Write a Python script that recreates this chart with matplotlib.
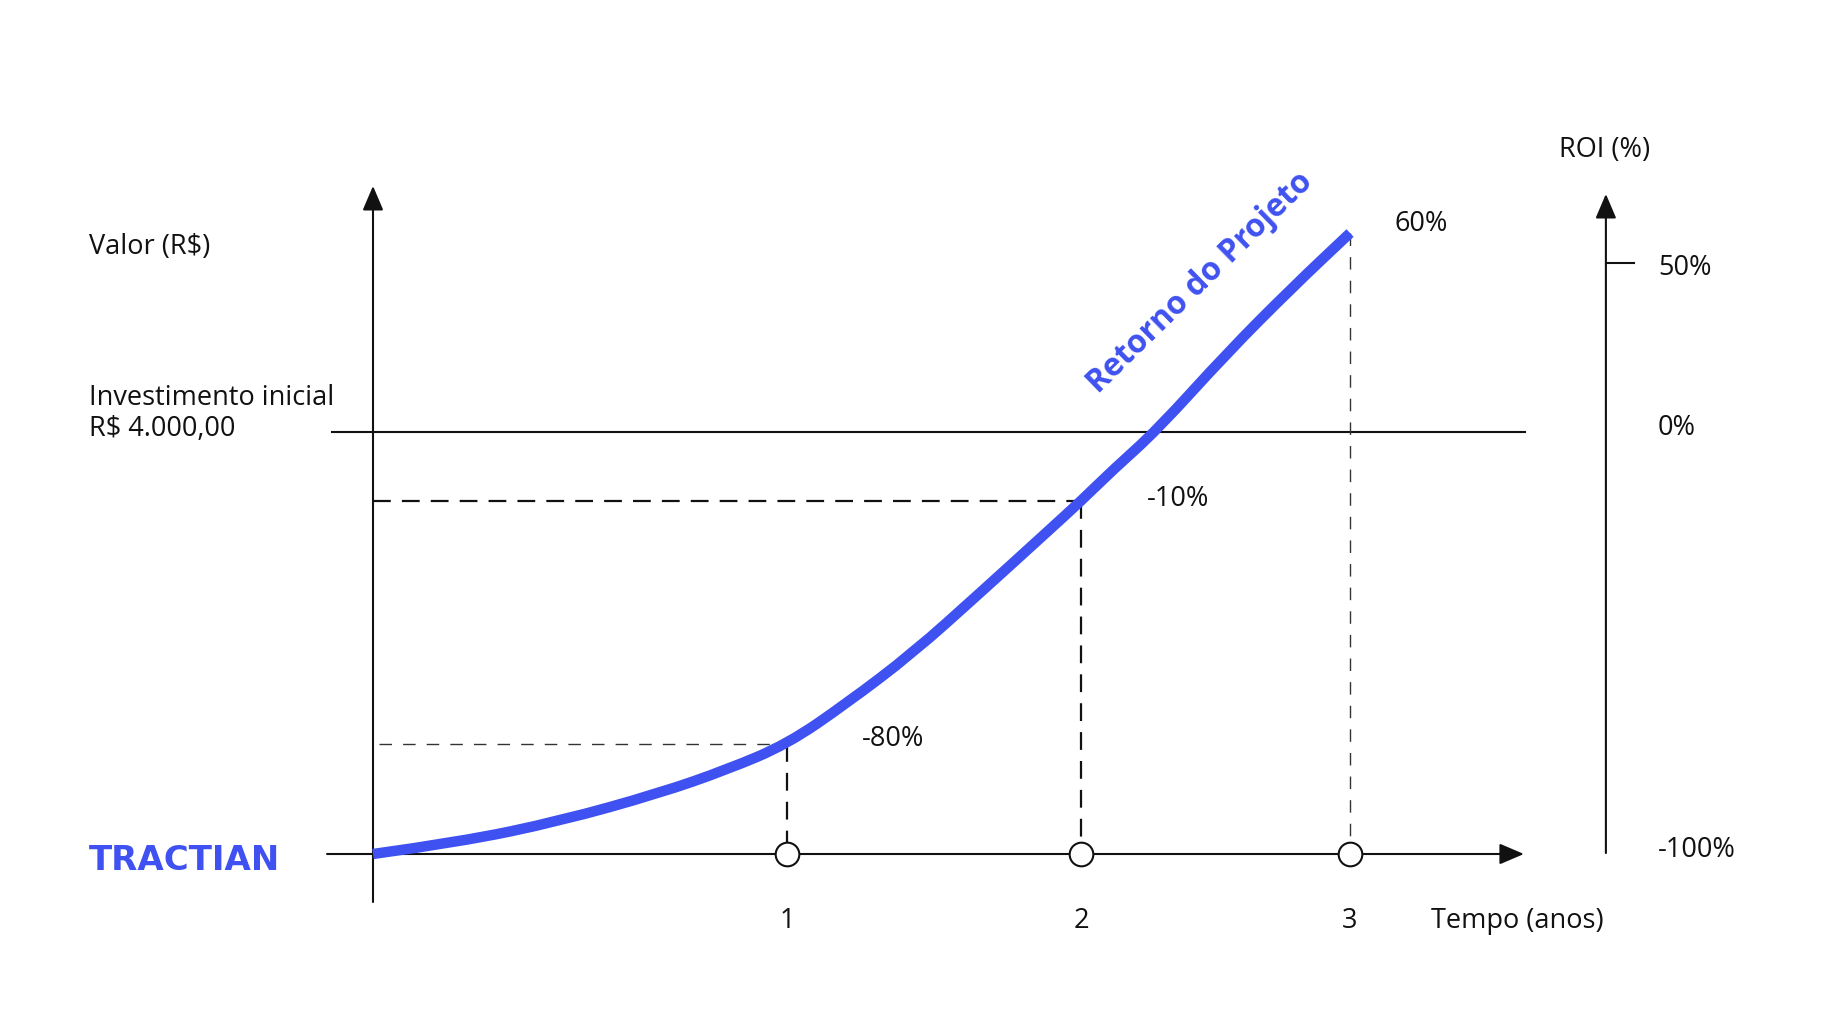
import numpy as np
import matplotlib
matplotlib.use('Agg')
import matplotlib.pyplot as plt
from matplotlib.path import Path
from matplotlib.patches import PathPatch

plt.rcParams['font.family'] = ['Open Sans', 'DejaVu Sans']

# data (schematic: horizontal unit = position of year 1, vertical = R$)
year_labels = ['1', '2', '3']
year_pos = [1.0, 1.71, 2.36]
year_value = [1040, 3346, 5886]
roi_labels = ['-80%', '-10%', '60%']
investment = 4000

curve_x = [0.0, 0.21, 0.452, 0.693, 0.855, 1.0, 1.145, 1.304, 1.466,
           1.628, 1.71, 1.787, 1.894, 2.063, 2.222, 2.36]
curve_y = [0, 114, 313, 578, 800, 1040, 1431, 1905, 2474,
           3052, 3346, 3640, 4019, 4749, 5375, 5886]

roi_tick_labels = ['50%', '0%', '-100%']
roi_tick_values = [5600, 4000, 0]

BLUE = '#3f51f0'
INK = '#111111'

# pixel <-> data helpers (figure is 1845 x 1009 px)
W, H = 1845, 1009
X0, PX_PER_X = 373, 414.0
Y0, R_PER_PX = 854, investment / 422.0

fig = plt.figure(figsize=(W / 100, H / 100), dpi=100)
ax = fig.add_axes([0, 0, 1, 1])
ax.set_xlim(-X0 / PX_PER_X, (W - X0) / PX_PER_X)
ax.set_ylim((Y0 - H) * R_PER_PX, Y0 * R_PER_PX)
ax.axis('off')

def arrow(x0, y0, x1, y1):
    ax.annotate('', xy=(x1, y1), xytext=(x0, y0),
                arrowprops=dict(arrowstyle='-|>,head_length=0.75,head_width=0.32',
                                mutation_scale=20, lw=1.5, color=INK,
                                shrinkA=0, shrinkB=0))

# axes
arrow(0, -455, 0, 6332)                 # left axis
arrow(-0.111, 0, 2.78, 0)               # time axis
arrow(2.978, 9, 2.978, 6256)            # ROI axis
ax.plot([-0.099, 2.783], [investment, investment], color=INK, lw=1.5)
ax.plot([2.978, 3.046], [roi_tick_values[0]] * 2, color=INK, lw=1.5)

# guide lines
thin = dict(color='#333333', lw=1.0, linestyle=(0, (9, 8)))
thick = dict(color=INK, lw=1.6, linestyle=(0, (8, 5)))
ax.plot([0.015, year_pos[0]], [year_value[0]] * 2, **thin)
ax.plot([year_pos[0]] * 2, [year_value[0], 0], **thick)
ax.plot([0, year_pos[1]], [year_value[1]] * 2, **thick)
ax.plot([year_pos[1]] * 2, [year_value[1], 0], **thick)
ax.plot([year_pos[2]] * 2, [year_value[2], 0], **thin)

# project return curve, smoothed with quadratic bezier segments
pts = np.column_stack([curve_x, curve_y])
verts = [pts[0]]
codes = [Path.MOVETO]
for i in range(1, len(pts) - 1):
    verts += [pts[i], (pts[i] + pts[i + 1]) / 2]
    codes += [Path.CURVE3, Path.CURVE3]
verts.append(pts[-1])
codes.append(Path.LINETO)
ax.add_patch(PathPatch(Path(verts, codes), facecolor='none', edgecolor=BLUE,
                       lw=7.5, capstyle='butt', joinstyle='round', zorder=4))

ax.scatter(year_pos, [0] * len(year_pos), s=290, facecolor='white',
           edgecolor=INK, linewidth=1.5, zorder=5)

fs = 19.5
dy = -25  # small nudge so text centres sit like the reference
for x, lab in zip(year_pos, year_labels):
    ax.text(x, -607 + dy, lab, fontsize=fs, color=INK, ha='center', va='center')

offsets = [(75, 5), (66, 2), (44, 9)]
for x, y, lab, off in zip(year_pos, year_value, roi_labels, offsets):
    ax.annotate(lab, (x, y), xytext=off, textcoords='offset pixels',
                fontsize=fs, color=INK, ha='left', va='center')

label_shift = [-20, 60, 60]
for lab, v, s in zip(roi_tick_labels, roi_tick_values, label_shift):
    ax.text(3.104, v + s + dy, lab, fontsize=fs, color=INK, ha='left', va='center')

ax.text(-0.686, 5782 + dy, 'Valor (R$)', fontsize=fs, color=INK, va='center')
ax.text(-0.686, 4351 + dy, 'Investimento inicial', fontsize=fs, color=INK, va='center')
ax.text(-0.686, 4057 + dy, 'R$ 4.000,00', fontsize=fs, color=INK, va='center')
ax.text(2.865, 6702 + dy, 'ROI (%)', fontsize=fs, color=INK, va='center')
ax.text(2.556, -607 + dy, 'Tempo (anos)', fontsize=fs, color=INK, va='center')

ax.text(1.998, 5412, 'Retorno do Projeto', fontsize=23, fontweight='bold',
        color=BLUE, rotation=44.4, rotation_mode='anchor',
        ha='center', va='center')

ax.text(-0.686, -57, 'TRACTIAN', fontsize=24.5, fontweight='bold',
        family='DejaVu Sans', color=BLUE, va='center', ha='left')

fig.savefig('out.png', dpi=100, facecolor='white')
